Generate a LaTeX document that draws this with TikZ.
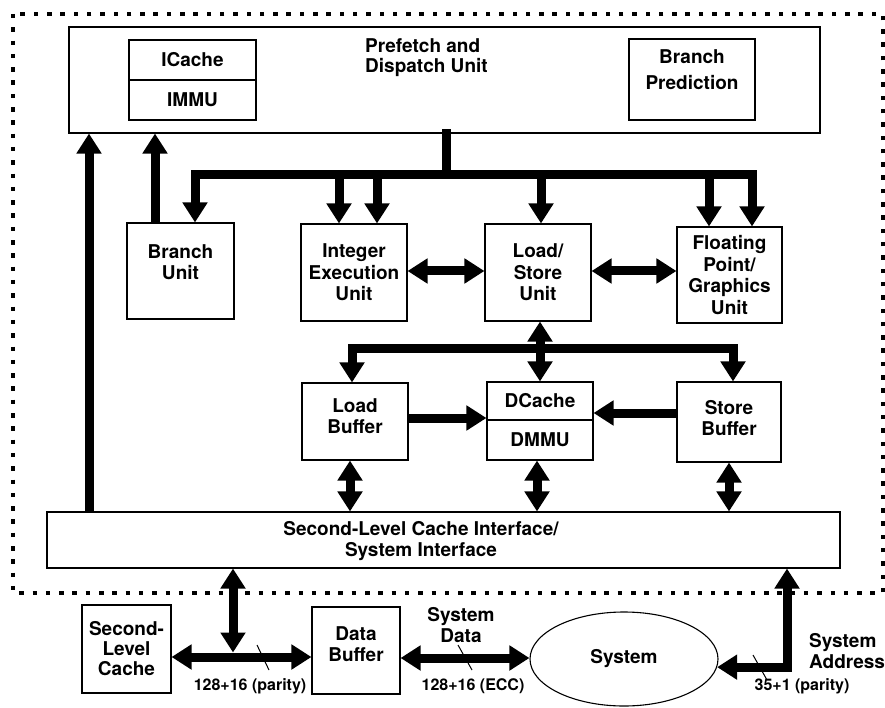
\documentclass[tikz,border=0pt]{standalone}
\usepackage{fontspec}
\setmainfont{TeX Gyre Heros}
\usetikzlibrary{arrows.meta,shapes.geometric}
\tikzset{
  box/.style={draw, line width=1.1pt, inner sep=0pt, align=center,
    font=\fontsize{19}{21.5}\selectfont\bfseries},
  txt/.style={inner sep=0pt, font=\fontsize{19}{21}\selectfont\bfseries},
  lbl/.style={inner sep=0pt, font=\fontsize{16}{19}\selectfont\bfseries},
  arr/.style={line width=9pt, -{Triangle[width=24pt,length=20pt]}},
  darr/.style={line width=9pt, {Triangle[width=24pt,length=20pt]}-{Triangle[width=24pt,length=20pt]}},
  bus/.style={line width=9pt, line cap=rect},
  slash/.style={line width=1pt},
  chipborder/.style={line width=4.5pt, dash pattern=on 4.5pt off 8.8pt}
}
\begin{document}
\begin{tikzpicture}[x=1pt,y=-1pt]
\useasboundingbox (0,0) rectangle (885,708);
\draw[chipborder] (13,14) rectangle (883,593);

% boxes
\node[box, minimum width=751pt, minimum height=106pt] (pdu) at (444.5,80) {};
\node[txt, align=left, anchor=north west, font=\fontsize{19}{20}\selectfont\bfseries] (pdut) at (365,38) {Prefetch and\\Dispatch Unit};
\node[box, minimum width=127pt, minimum height=40pt] (icache) at (192.5,60) {ICache};
\node[box, minimum width=127pt, minimum height=40pt] (immu) at (192.5,100) {IMMU};
\node[box, minimum width=126pt, minimum height=81pt, text depth=20pt, font=\fontsize{19}{26}\selectfont\bfseries] (bp) at (692,79.5) {Branch\\Prediction};

\node[box, minimum width=107pt, minimum height=96pt, text depth=18pt] (bu) at (180.5,271) {Branch\\Unit};
\node[box, minimum width=106pt, minimum height=97pt] (ieu) at (354,272.5) {Integer\\Execution\\Unit};
\node[box, minimum width=106pt, minimum height=97pt] (lsu) at (538,272.5) {Load/\\Store\\Unit};
\node[box, minimum width=105pt, minimum height=96pt] (fpu) at (729.5,275) {Floating\\Point/\\Graphics\\Unit};

\node[box, minimum width=106pt, minimum height=77pt, text depth=11pt] (lb) at (355,421.5) {Load\\Buffer};
\node[box, minimum width=106pt, minimum height=38pt] (dcache) at (540,401) {DCache};
\node[box, minimum width=106pt, minimum height=40pt] (dmmu) at (540,440) {DMMU};
\node[box, minimum width=104pt, minimum height=80pt, text depth=8pt] (sb) at (729,422) {Store\\Buffer};

\node[box, minimum width=793pt, minimum height=56pt] (sli) at (443.5,540) {};
\node[txt, align=center] (slit) at (421,541) {Second-Level Cache Interface/\\System Interface};

\node[box, minimum width=89pt, minimum height=88pt, font=\fontsize{19}{20}\selectfont\bfseries] (l2) at (126.5,649) {Second-\\Level\\Cache};
\node[box, minimum width=88pt, minimum height=87pt, text depth=13pt] (db) at (356,650.5) {Data\\Buffer};
\node[draw, ellipse, line width=1.1pt, minimum width=188pt, minimum height=94pt, inner sep=0pt,
  font=\fontsize{19}{21}\selectfont\bfseries] (sys) at (624,659) {System};

% upper connectors
\draw[arr] (sli.north -| 89,0) -- (pdu.south -| 89,0);
\draw[arr] (bu.north -| 155,0) -- (pdu.south -| 155,0);
\coordinate (busL) at (195,175);
\coordinate (busR) at (752,175);
\draw[bus] (pdu.south -| 446,0) -- (446,175);
\draw[bus] (busL) -- (busR);
\draw[arr] (busL) -- (bu.north -| busL);
\draw[arr] (339,175) -- (ieu.north -| 339,0);
\draw[arr] (377,175) -- (ieu.north -| 377,0);
\draw[arr] (541,175) -- (lsu.north -| 541,0);
\draw[arr] (709,175) -- (fpu.north -| 709,0);
\draw[arr] (busR) -- (fpu.north -| busR);

\draw[darr] (ieu.east |- 0,271) -- (lsu.west |- 0,271);
\draw[darr] (lsu.east |- 0,271) -- (fpu.west |- 0,271);

% lower bus
\coordinate (lbusL) at (352,348);
\coordinate (lbusR) at (733,348);
\draw[bus] (lbusL) -- (lbusR);
\draw[arr] (lbusL) -- (lb.north -| lbusL);
\draw[arr] (lbusR) -- (sb.north -| lbusR);
\draw[darr] (lsu.south -| 540,0) -- (dcache.north -| 540,0);

\draw[arr] (lb.east |- 0,418) -- (dcache.west |- 0,418);
\draw[arr] (sb.west |- 0,413) -- (dcache.east |- 0,413);

\draw[darr] (lb.south -| 350,0) -- (sli.north -| 350,0);
\draw[darr] (dmmu.south -| 537,0) -- (sli.north -| 537,0);
\draw[darr] (sb.south -| 729,0) -- (sli.north -| 729,0);

% outside connectors
\coordinate (j1) at (233,657);
\draw[darr] (sli.south -| j1) -- ([yshift=4.5pt]j1);
\draw[darr] (l2.east |- j1) -- (db.west |- j1);
\draw[slash] (257,645) -- (269,670);
\node[lbl] (lab1) at (250,686) {128+16 (parity)};

\draw[darr] (db.east |- 0,658) -- (sys.west |- 0,658);
\draw[slash] (458,645) -- (472,670);
\node[txt, align=center] (sdata) at (461,625) {System\\Data};
\node[lbl] (lab2) at (473,686) {128+16 (ECC)};

\draw[darr, line join=miter] (sys.-5) -| (sli.south -| 787,0);
\draw[slash] (753,655) -- (767,680);
\node[lbl] (lab3) at (802,686) {35+1 (parity)};
\node[txt, align=left, anchor=west] (saddr) at (809,651) {System\\Address};
\end{tikzpicture}
\end{document}
